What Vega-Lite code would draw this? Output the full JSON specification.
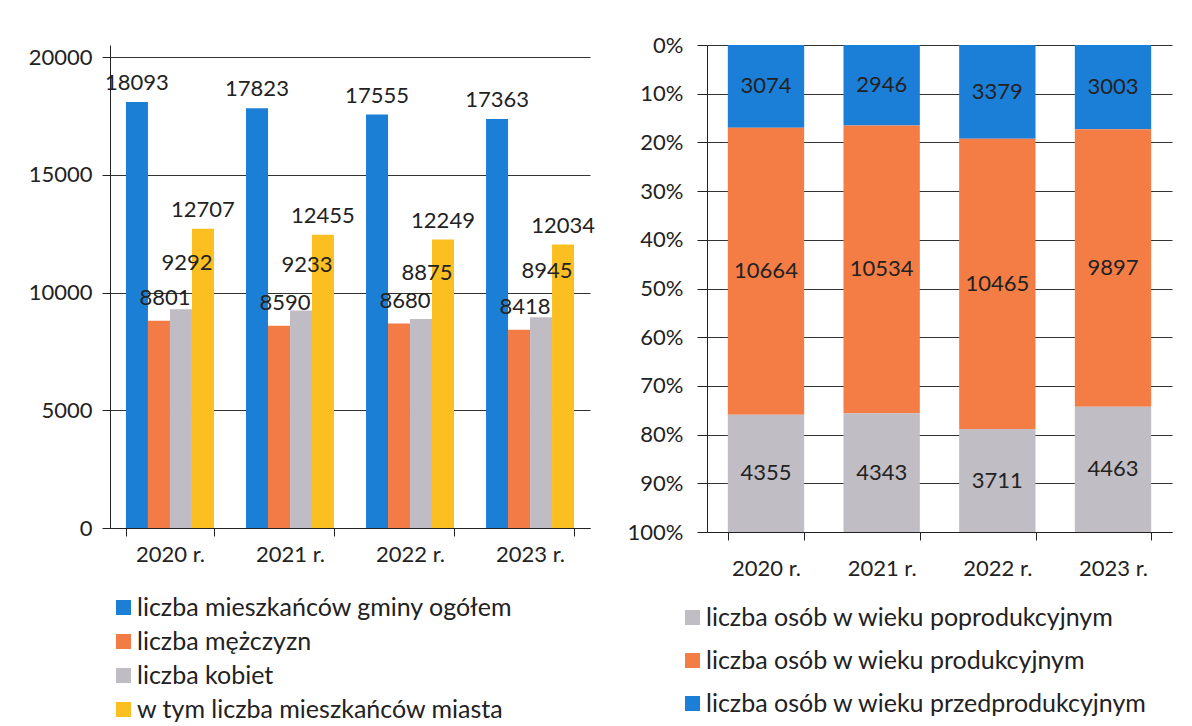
{
  "$schema": "https://vega.github.io/schema/vega-lite/v6.json",
  "background": "white",
  "padding": {"left": 28, "top": 34, "right": 10, "bottom": 0},
  "spacing": 32,
  "resolve": {"scale": {"color": "independent"}, "legend": {"color": "independent"}},
  "config": {
    "font": "Lato",
    "view": {"stroke": null},
    "axis": {"labelFont": "Lato", "labelFontSize": 22, "labelColor": "#222", "domainColor": "#222", "tickColor": "#222", "gridColor": "#333", "gridWidth": 1, "title": null, "tickSize": 8},
    "legend": {"labelFont": "Lato", "labelFontSize": 25, "labelColor": "#222", "symbolType": "square", "symbolSize": 225, "symbolStrokeWidth": 0, "title": null, "labelLimit": 700, "labelOffset": 1}
  },
  "hconcat": [
    {
      "width": 480,
      "height": 483,
      "data": {"values": [
        {"rok": "2020 r.", "kategoria": "liczba mieszkańców gminy ogółem", "wartosc": 18093},
        {"rok": "2020 r.", "kategoria": "liczba mężczyzn", "wartosc": 8801},
        {"rok": "2020 r.", "kategoria": "liczba kobiet", "wartosc": 9292},
        {"rok": "2020 r.", "kategoria": "w tym liczba mieszkańców miasta", "wartosc": 12707},
        {"rok": "2021 r.", "kategoria": "liczba mieszkańców gminy ogółem", "wartosc": 17823},
        {"rok": "2021 r.", "kategoria": "liczba mężczyzn", "wartosc": 8590},
        {"rok": "2021 r.", "kategoria": "liczba kobiet", "wartosc": 9233},
        {"rok": "2021 r.", "kategoria": "w tym liczba mieszkańców miasta", "wartosc": 12455},
        {"rok": "2022 r.", "kategoria": "liczba mieszkańców gminy ogółem", "wartosc": 17555},
        {"rok": "2022 r.", "kategoria": "liczba mężczyzn", "wartosc": 8680},
        {"rok": "2022 r.", "kategoria": "liczba kobiet", "wartosc": 8875},
        {"rok": "2022 r.", "kategoria": "w tym liczba mieszkańców miasta", "wartosc": 12249},
        {"rok": "2023 r.", "kategoria": "liczba mieszkańców gminy ogółem", "wartosc": 17363},
        {"rok": "2023 r.", "kategoria": "liczba mężczyzn", "wartosc": 8418},
        {"rok": "2023 r.", "kategoria": "liczba kobiet", "wartosc": 8945},
        {"rok": "2023 r.", "kategoria": "w tym liczba mieszkańców miasta", "wartosc": 12034}
      ]},
      "encoding": {
        "x": {"field": "rok", "type": "nominal", "scale": {"paddingInner": 0.267, "paddingOuter": 0.133}, "axis": {"tickBand": "extent", "labelAngle": 0, "labelPadding": 8, "grid": false}},
        "xOffset": {"field": "kategoria", "type": "nominal", "sort": ["liczba mieszkańców gminy ogółem", "liczba mężczyzn", "liczba kobiet", "w tym liczba mieszkańców miasta"]},
        "y": {"field": "wartosc", "type": "quantitative", "scale": {"domain": [0, 20510], "nice": false}, "axis": {"values": [0, 5000, 10000, 15000, 20000], "format": "d", "labelPadding": 10, "grid": true}}
      },
      "layer": [
        {
          "mark": {"type": "bar"},
          "encoding": {
            "color": {"field": "kategoria", "type": "nominal",
              "scale": {"domain": ["liczba mieszkańców gminy ogółem", "liczba mężczyzn", "liczba kobiet", "w tym liczba mieszkańców miasta"], "range": ["#1b7fd6", "#f27b46", "#bfbcc3", "#fbbf22"]},
              "legend": {"orient": "none", "legendX": 1, "legendY": 550, "rowPadding": 8}}
          }
        },
        {
          "transform": [{"filter": "datum.kategoria === 'liczba mieszkańców gminy ogółem' || datum.kategoria === 'w tym liczba mieszkańców miasta'"}],
          "mark": {"type": "text", "fontSize": 22, "color": "#222", "dy": -19},
          "encoding": {"text": {"field": "wartosc", "type": "quantitative", "format": "d"}}
        },
        {
          "transform": [{"filter": "datum.kategoria === 'liczba mężczyzn'"}],
          "mark": {"type": "text", "fontSize": 22, "color": "#222", "dy": -23, "dx": 6},
          "encoding": {"text": {"field": "wartosc", "type": "quantitative", "format": "d"}}
        },
        {
          "transform": [{"filter": "datum.kategoria === 'liczba kobiet'"}],
          "mark": {"type": "text", "fontSize": 22, "color": "#222", "dy": -46, "dx": 6},
          "encoding": {"text": {"field": "wartosc", "type": "quantitative", "format": "d"}}
        }
      ]
    },
    {
      "width": 465,
      "height": 487,
      "data": {"values": [
        {"rok": "2020 r.", "kategoria": "liczba osób w wieku przedprodukcyjnym", "wartosc": 3074},
        {"rok": "2020 r.", "kategoria": "liczba osób w wieku produkcyjnym", "wartosc": 10664},
        {"rok": "2020 r.", "kategoria": "liczba osób w wieku poprodukcyjnym", "wartosc": 4355},
        {"rok": "2021 r.", "kategoria": "liczba osób w wieku przedprodukcyjnym", "wartosc": 2946},
        {"rok": "2021 r.", "kategoria": "liczba osób w wieku produkcyjnym", "wartosc": 10534},
        {"rok": "2021 r.", "kategoria": "liczba osób w wieku poprodukcyjnym", "wartosc": 4343},
        {"rok": "2022 r.", "kategoria": "liczba osób w wieku przedprodukcyjnym", "wartosc": 3379},
        {"rok": "2022 r.", "kategoria": "liczba osób w wieku produkcyjnym", "wartosc": 10465},
        {"rok": "2022 r.", "kategoria": "liczba osób w wieku poprodukcyjnym", "wartosc": 3711},
        {"rok": "2023 r.", "kategoria": "liczba osób w wieku przedprodukcyjnym", "wartosc": 3003},
        {"rok": "2023 r.", "kategoria": "liczba osób w wieku produkcyjnym", "wartosc": 9897},
        {"rok": "2023 r.", "kategoria": "liczba osób w wieku poprodukcyjnym", "wartosc": 4463}
      ]},
      "transform": [
        {"stack": "wartosc", "groupby": ["rok"], "sort": [{"field": "kategoria", "order": "descending"}], "offset": "normalize", "as": ["y0", "y1"]},
        {"calculate": "(datum.y0 + datum.y1) / 2", "as": "ymid"}
      ],
      "encoding": {
        "x": {"field": "rok", "type": "nominal", "scale": {"paddingInner": 0.34, "paddingOuter": 0.18}, "axis": {"tickBand": "extent", "labelAngle": 0, "labelPadding": 18, "grid": false}}
      },
      "layer": [
        {
          "mark": {"type": "bar"},
          "encoding": {
            "y": {"field": "y0", "type": "quantitative", "scale": {"domain": [0, 1], "reverse": true, "nice": false}, "axis": {"format": ".0%", "values": [0, 0.1, 0.2, 0.3, 0.4, 0.5, 0.6, 0.7, 0.8, 0.9, 1], "tickSize": 10, "labelPadding": 14, "grid": true}},
            "y2": {"field": "y1"},
            "color": {"field": "kategoria", "type": "nominal",
              "scale": {"domain": ["liczba osób w wieku poprodukcyjnym", "liczba osób w wieku produkcyjnym", "liczba osób w wieku przedprodukcyjnym"], "range": ["#c0bdc4", "#f47c45", "#1b7fd8"]},
              "legend": {"orient": "none", "legendX": -27, "legendY": 560, "rowPadding": 17}}
          }
        },
        {
          "mark": {"type": "text", "fontSize": 22, "color": "#222"},
          "encoding": {
            "y": {"field": "ymid", "type": "quantitative"},
            "text": {"field": "wartosc", "type": "quantitative", "format": "d"}
          }
        }
      ]
    }
  ]
}
